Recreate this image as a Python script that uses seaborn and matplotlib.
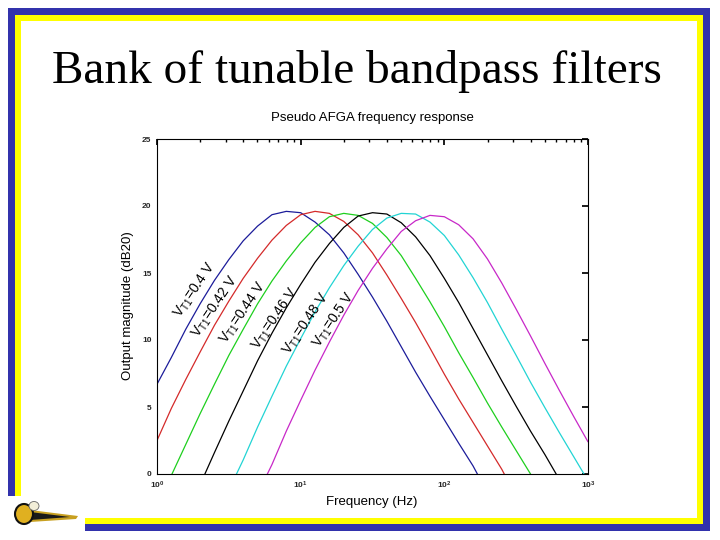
import numpy as np
import pandas as pd
import matplotlib
matplotlib.use("Agg")
import matplotlib.pyplot as plt
from matplotlib.patches import Rectangle, Polygon, Ellipse
import seaborn as sns

# ---------------- data ----------------
log_freq = [0.0, 0.1, 0.2, 0.3, 0.4, 0.5, 0.6, 0.7, 0.8, 0.9, 1.0,
            1.1, 1.2, 1.3, 1.4, 1.5, 1.6, 1.7, 1.8, 1.9, 2.0,
            2.1, 2.2, 2.3, 2.4, 2.5, 2.6, 2.7, 2.8, 2.9, 3.0]
N = None
mag_040 = [6.7, 8.7, 10.8, 12.7, 14.45, 16.0, 17.4, 18.5, 19.35, 19.6, 19.5,
           18.8, 17.85, 16.5, 14.9, 13.2, 11.4, 9.5, 7.6, 5.8, 4.05,
           2.3, 0.6, -1.4, N, N, N, N, N, N, N]
mag_042 = [2.5, 4.9, 7.05, 9.1, 11.1, 12.9, 14.6, 16.1, 17.45, 18.55, 19.35,
           19.6, 19.45, 18.85, 17.85, 16.5, 14.85, 13.1, 11.3, 9.4, 7.45,
           5.6, 3.85, 2.1, 0.35, -1.7, N, N, N, N, N]
mag_044 = [-2.2, -0.1, 2.2, 4.5, 6.7, 8.85, 10.8, 12.7, 14.4, 15.9, 17.25,
           18.4, 19.2, 19.45, 19.3, 18.7, 17.65, 16.3, 14.6, 12.85, 11.0,
           9.05, 7.2, 5.3, 3.5, 1.75, 0.0, -2.1, N, N, N]
mag_046 = [N, N, N, -0.8, 1.6, 3.95, 6.2, 8.45, 10.5, 12.4, 14.15,
           15.8, 17.2, 18.4, 19.25, 19.5, 19.4, 18.75, 17.7, 16.3, 14.6,
           12.8, 10.85, 8.9, 6.95, 5.05, 3.2, 1.45, -0.4, N, N]
mag_048 = [N, N, N, N, N, -1.2, 1.05, 3.5, 5.8, 8.05, 10.1,
           12.1, 13.9, 15.55, 17.0, 18.25, 19.1, 19.45, 19.4, 18.8, 17.8,
           16.35, 14.65, 12.8, 10.8, 8.85, 6.85, 4.95, 3.1, 1.3, -0.5]
mag_050 = [N, N, N, N, N, N, N, -1.5, 0.7, 3.2, 5.5,
           7.75, 9.85, 11.85, 13.7, 15.35, 16.8, 18.1, 18.9, 19.3, 19.2,
           18.6, 17.55, 16.05, 14.25, 12.3, 10.3, 8.25, 6.25, 4.3, 2.4]

series_names = ["0.4", "0.42", "0.44", "0.46", "0.48", "0.5"]
series_mags = [mag_040, mag_042, mag_044, mag_046, mag_048, mag_050]
colors = ["#1c1c9a", "#d42a2a", "#1ecf1e", "#000000", "#22d4d4", "#c828c8"]

# label anchor positions (Hz, dB)
label_x = [1.85, 2.55, 3.99, 6.68, 11.0, 17.0]
label_y = [13.7, 12.45, 12.0, 11.6, 11.2, 11.5]

x_ticks = [1, 10, 100, 1000]
y_ticks = [0, 5, 10, 15, 20, 25]

# ---------------- build long table ----------------
rows = []
for name, mags in zip(series_names, series_mags):
    for lf, m in zip(log_freq, mags):
        if m is not None:
            rows.append({"freq": 10 ** lf, "mag": m, "vt": name})
df = pd.DataFrame(rows)

sns.set_theme(style="white")
plt.rcParams["font.family"] = ["Liberation Sans", "DejaVu Sans"]
plt.rcParams["mathtext.default"] = "regular"

W, H = 720, 540
fig = plt.figure(figsize=(7.2, 5.4), dpi=100)
fig.patch.set_facecolor("white")

def prect(x0, y0, x1, y1, color):
    fig.patches.append(Rectangle((x0 / W, 1 - y1 / H), (x1 - x0) / W, (y1 - y0) / H,
                                 transform=fig.transFigure, facecolor=color,
                                 edgecolor="none", zorder=0))

blue = "#3232ac"
yellow = "#ffff00"
# blue outer frame
prect(8, 8, 710, 15, blue)
prect(703, 8, 710, 531, blue)
prect(85, 524, 710, 531, blue)
prect(8, 8, 15, 496, blue)
# yellow inner frame
prect(15, 15, 703, 21, yellow)
prect(697, 15, 703, 524, yellow)
prect(85, 518, 703, 524, yellow)
prect(15, 15, 21, 496, yellow)

# simple logo (yellow jacket streak)
def ppoly(pts, color, z=1):
    fig.patches.append(Polygon([(x / W, 1 - y / H) for x, y in pts], closed=True,
                               transform=fig.transFigure, facecolor=color,
                               edgecolor="none", zorder=z))
ppoly([(30, 510), (78, 516), (76, 519), (30, 522)], "#c8a020")
ppoly([(30, 512), (70, 517), (30, 520)], "#1a1a1a", 2)
fig.patches.append(Ellipse((24 / W, 1 - 514 / H), 18 / W, 20 / H, transform=fig.transFigure,
                           facecolor="#e0b020", edgecolor="#111111", lw=1.5, zorder=3))
fig.patches.append(Ellipse((34 / W, 1 - 506 / H), 10 / W, 9 / H, transform=fig.transFigure,
                           facecolor="#f2eed8", edgecolor="#666666", lw=0.6, zorder=4))

# slide title
fig.text(357 / W, 1 - 83 / H, "Bank of tunable bandpass filters", ha="center",
         va="baseline", fontsize=34, family=["Liberation Serif", "DejaVu Serif"], color="black")

ax = fig.add_axes([157 / W, 1 - 474 / H, (588 - 157) / W, (474 - 139) / H])
ax.set_facecolor("white")
sns.lineplot(data=df, x="freq", y="mag", hue="vt", palette=dict(zip(series_names, colors)),
             estimator=None, sort=False, legend=False, linewidth=0.9, ax=ax)
ax.set_xscale("log")
ax.set_xlim(1, 1000)
ax.set_ylim(0, 25)
ax.set_xticks(x_ticks)
ax.set_yticks(y_ticks)
ax.set_xlabel("")
ax.set_ylabel("")
for s in ax.spines.values():
    s.set_color("black")
    s.set_linewidth(0.8)
ax.tick_params(direction="in", which="both", top=True, right=True, color="black",
               labelsize=6, pad=4)
ax.tick_params(which="major", length=4)
ax.tick_params(which="minor", length=2)
for lab in ax.get_xticklabels() + ax.get_yticklabels():
    lab.set_fontweight("bold")

for name, lx, ly, c in zip(series_names, label_x, label_y, colors):
    ax.text(lx, ly, r"V$_{T1}$=" + name + " V", rotation=56, ha="center", va="center",
            fontsize=10, color="black", rotation_mode="anchor")

fig.text(372 / W, 1 - 118 / H, "Pseudo AFGA frequency response", ha="center", va="center",
         fontsize=9.5, color="black")
fig.text(372 / W, 1 - 502 / H, "Frequency (Hz)", ha="center", va="center",
         fontsize=9.5, color="black")
fig.text(128 / W, 1 - 306 / H, "Output magnitude (dB20)", ha="center", va="center",
         rotation=90, fontsize=9.5, color="black")

fig.savefig("out.png", dpi=100, facecolor="white")
